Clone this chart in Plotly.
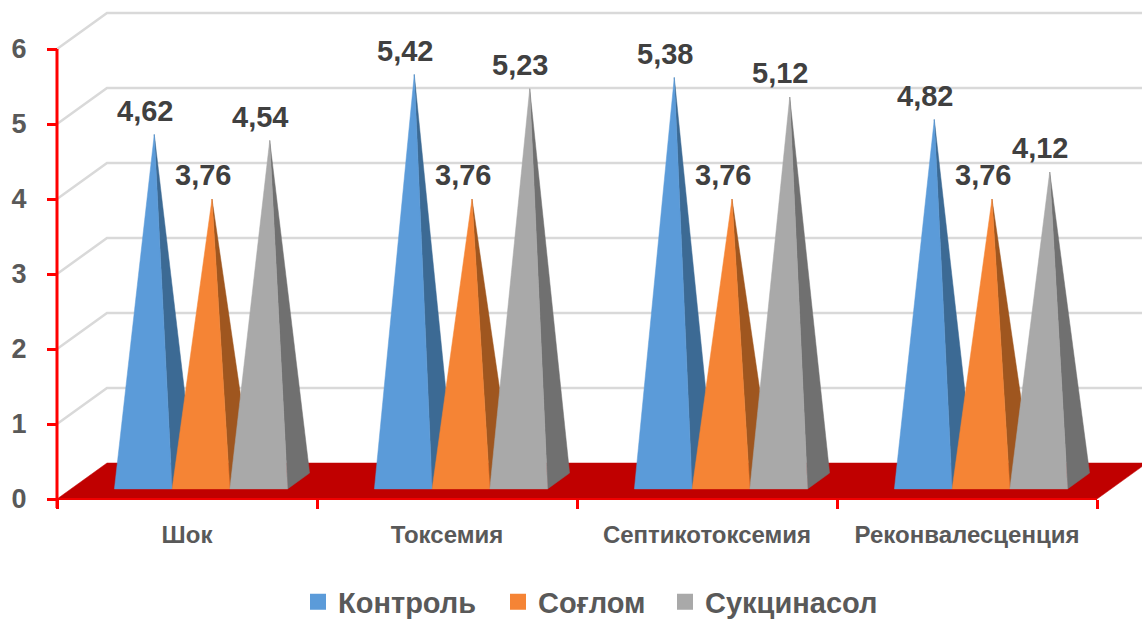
import plotly.graph_objects as go

categories = ["Шок", "Токсемия", "Септикотоксемия", "Реконвалесценция"]
kontrol = [4.62, 5.42, 5.38, 4.82]
soglom = [3.76, 3.76, 3.76, 3.76]
suktsinasol = [4.54, 5.23, 5.12, 4.12]
y_ticks = [0, 1, 2, 3, 4, 5, 6]

series = [
    ("Контроль", kontrol, "#5B9BD9", "#3C6A94"),
    ("Соғлом", soglom, "#F58435", "#9F561F"),
    ("Сукцинасол", suktsinasol, "#A9A9A9", "#707070"),
]

W, H = 1142, 619
X0, Y0, UX, UY = 57, 499, 260, 75
DX, DY = 50 / UX, 36 / UY
FONT = "Liberation Sans, sans-serif"
BAR_W, GAP = 0.222, 0.167
D_FRONT, D_BACK = 0.28, 0.72
LEGEND_X = [298, 498, 665]
LEGEND_Y = 602


def proj(x, v, d):
    return x + d * DX, v + d * DY


def poly(points, color):
    xs, ys = zip(*[proj(*p) for p in points])
    return go.Scatter(x=list(xs) + [xs[0]], y=list(ys) + [ys[0]], mode="lines", fill="toself",
                      fillcolor=color, line=dict(color=color, width=0.5),
                      showlegend=False, hoverinfo="skip")


fig = go.Figure()
x_end = len(categories)

for v in y_ticks[1:]:
    xs, ys = zip(*[proj(0, v, 0), proj(0, v, 1), proj(x_end + 1, v, 1)])
    fig.add_trace(go.Scatter(x=xs, y=ys, mode="lines", line=dict(color="#D9D9D9", width=2.5),
                             showlegend=False, hoverinfo="skip"))

fig.add_trace(poly([(0, 0, 0), (x_end, 0, 0), (x_end, 0, 1), (0, 0, 1)], "#C00000"))
fig.add_trace(go.Scatter(x=[0, x_end], y=[0, 0], mode="lines", line=dict(color="#F00000", width=2),
                         showlegend=False, hoverinfo="skip"))
fig.add_trace(go.Scatter(x=[0, 0], y=[-0.12, y_ticks[-1]], mode="lines", line=dict(color="#FF0000", width=3),
                         showlegend=False, hoverinfo="skip"))

for c in range(len(categories)):
    for s, (name, vals, main, dark) in enumerate(series):
        x0 = c + GAP + s * BAR_W
        x1 = x0 + BAR_W
        apex = ((x0 + x1) / 2, vals[c], (D_FRONT + D_BACK) / 2)
        fig.add_trace(poly([(x1, 0, D_FRONT), (x1, 0, D_BACK), apex], dark))
        fig.add_trace(poly([(x0, 0, D_FRONT), (x1, 0, D_FRONT), apex], main))
        ax, ay = proj(*apex)
        fig.add_annotation(x=ax, y=ay, text=f"{vals[c]:.2f}".replace(".", ","), showarrow=False,
                           xshift=-9.5, yshift=24, yanchor="middle", xanchor="center",
                           font=dict(family=FONT, size=29, color="#404040", weight="bold"))

legend_font = dict(family=FONT, size=29, color="#595959", weight="bold")
legends = {}
for i, (name, vals, main, dark) in enumerate(series):
    key = "legend" if i == 0 else f"legend{i + 1}"
    fig.add_trace(go.Scatter(x=[None], y=[None], mode="markers", name=name, legend=key, showlegend=True,
                             marker=dict(symbol="square", size=18, color=main)))
    legends[key] = dict(orientation="h", x=LEGEND_X[i] / W, xanchor="left",
                        y=1 - LEGEND_Y / H, yanchor="middle",
                        font=legend_font, bgcolor="rgba(0,0,0,0)")

fig.update_layout(
    width=W, height=H, margin=dict(l=0, r=0, t=0, b=0, autoexpand=False), autosize=False,
    paper_bgcolor="white", plot_bgcolor="white", hovermode=False,
    xaxis=dict(range=[-X0 / UX, (W - X0) / UX], showgrid=False, zeroline=False, showline=False,
               anchor="free", position=(H - Y0) / H,
               tickmode="array", tickvals=[i + 0.5 for i in range(len(categories))], ticktext=categories,
               ticks="", ticklabelstandoff=19,
               tickfont=dict(family=FONT, size=24, color="#595959", weight="bold"),
               minor=dict(tickmode="array", tickvals=list(range(len(categories) + 1)), ticks="outside",
                          ticklen=9, tickwidth=2.5, tickcolor="#FF0000", showgrid=False)),
    yaxis=dict(range=[(Y0 - H) / UY, Y0 / UY], showgrid=False, zeroline=False, showline=False,
               anchor="free", position=X0 / W,
               tickmode="array", tickvals=y_ticks, ticks="outside", ticklen=10, tickwidth=2.5,
               tickcolor="#FF0000", ticklabelstandoff=15,
               tickfont=dict(family=FONT, size=27, color="#595959", weight="bold")),
    **legends,
)

fig.write_html("out.html", config=dict(displayModeBar=False),
               post_script="document.body.style.margin='0';document.body.style.overflow='hidden';")
